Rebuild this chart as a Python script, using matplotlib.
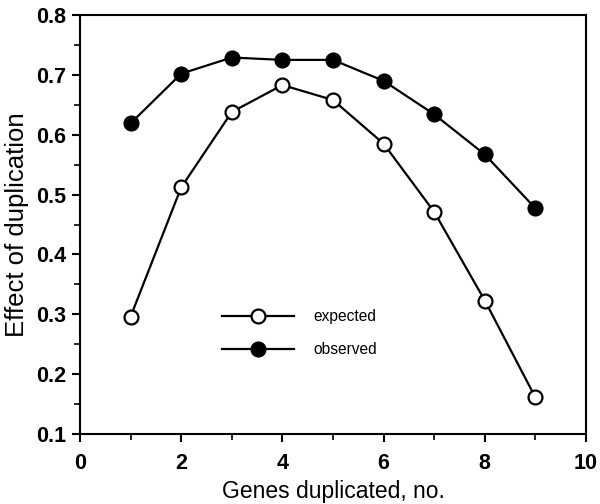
import numpy as np
import matplotlib
matplotlib.use('Agg')
import matplotlib.pyplot as plt
from matplotlib.ticker import MultipleLocator

plt.rcParams['font.family'] = ['Liberation Sans', 'DejaVu Sans']

genes = [1, 2, 3, 4, 5, 6, 7, 8, 9]
expected = [0.296, 0.512, 0.638, 0.683, 0.658, 0.585, 0.471, 0.323, 0.161]
observed = [0.619, 0.702, 0.729, 0.725, 0.725, 0.690, 0.634, 0.567, 0.477]

fig = plt.figure(figsize=(6, 5.04), dpi=100)
ax = fig.add_axes([0.1333, 0.1389, 0.8434, 0.8313])

ax.plot(genes, expected, '-o', color='k', lw=1.6, ms=10, mfc='white', mec='k', mew=1.6, label='expected')
ax.plot(genes, observed, '-o', color='k', lw=1.6, ms=10, mfc='k', mec='k', mew=1.6, label='observed')

ax.set_xlim(0, 10)
ax.set_ylim(0.1, 0.8)
ax.xaxis.set_major_locator(MultipleLocator(2))
ax.xaxis.set_minor_locator(MultipleLocator(1))
ax.yaxis.set_major_locator(MultipleLocator(0.1))
ax.yaxis.set_minor_locator(MultipleLocator(0.05))
ax.yaxis.set_major_formatter(matplotlib.ticker.FormatStrFormatter('%.1f'))
ax.tick_params(which='major', direction='out', length=6, width=1.5, labelsize=15.5)
ax.tick_params(axis='x', which='major', pad=8)
ax.tick_params(axis='y', which='major', pad=4)
ax.tick_params(which='minor', direction='out', length=4, width=1.2)
for lab in ax.get_xticklabels() + ax.get_yticklabels():
    lab.set_fontweight('bold')
for s in ax.spines.values():
    s.set_linewidth(1.5)

ax.set_xlabel('Genes duplicated, no.', fontsize=16.5, labelpad=4)
ax.set_ylabel('Effect of duplication', fontsize=18.5, labelpad=5)

ax.legend(loc='center left', bbox_to_anchor=(0.252, 0.241), frameon=False, numpoints=1,
          handlelength=4.64, handletextpad=1.25, fontsize=11.2, labelspacing=1.15)

fig.savefig('out.png', dpi=100)
